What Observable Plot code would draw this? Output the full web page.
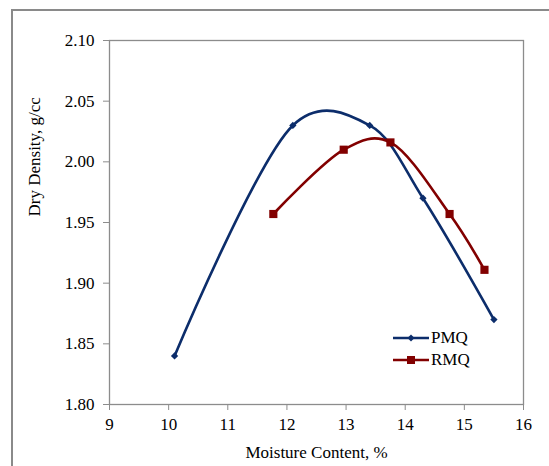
<!DOCTYPE html>
<html>
<head>
<meta charset="utf-8">
<script src="https://cdn.jsdelivr.net/npm/d3@7"></script>
<script src="https://cdn.jsdelivr.net/npm/@observablehq/plot@0.6"></script>
<style>
  html, body { margin: 0; padding: 0; background: #fff; }
  #wrap { position: relative; width: 549px; height: 466px; overflow: hidden; font-family: "Liberation Serif", "Times New Roman", serif; }
  #chart svg, #chart svg text, #chart svg g { font-family: "Liberation Serif", "Times New Roman", serif !important; font-variant: normal !important; }
  #outer { position: absolute; left: 11px; top: 9px; width: 600px; height: 600px; border-left: 2px solid #8a8a8a; border-top: 2px solid #8a8a8a; box-sizing: border-box; pointer-events: none; }
  #legend { position: absolute; left: 393px; top: 327px; font-size: 17px; color: #000; }
  .item { display: flex; align-items: center; height: 22px; }
  .item svg { display: block; margin-right: 1px; }
</style>
</head>
<body>
<div id="wrap">
  <div id="chart"></div>
  <div id="outer"></div>
  <div id="legend"></div>
</div>
<script>
const pmqMoisture = [10.1, 12.1, 13.4, 14.3, 15.5];
const pmqDensity  = [1.840, 2.030, 2.030, 1.970, 1.870];
const rmqMoisture = [11.77, 12.96, 13.75, 14.75, 15.34];
const rmqDensity  = [1.957, 2.010, 2.016, 1.957, 1.911];
const xTicks = [9, 10, 11, 12, 13, 14, 15, 16];
const yTicks = [1.80, 1.85, 1.90, 1.95, 2.00, 2.05, 2.10];
const seriesNames = ["PMQ", "RMQ"];
const seriesColors = ["#0c2d6b", "#820000"];
const xTitle = "Moisture Content, %";
const yTitle = "Dry Density, g/cc";

const pmq = pmqMoisture.map((x, i) => ({x, y: pmqDensity[i]}));
const rmq = rmqMoisture.map((x, i) => ({x, y: rmqDensity[i]}));

const font = "Liberation Serif, Times New Roman, serif";
const smooth = d3.curveCatmullRom.alpha(0.2);

const chart = Plot.plot({
  width: 549,
  height: 466,
  marginLeft: 109,
  marginRight: 26,
  marginTop: 40,
  marginBottom: 62,
  style: { fontFamily: font, fontSize: "17px", background: "#fff", color: "#000" },
  x: { domain: [9, 16] },
  y: { domain: [1.80, 2.10] },
  marks: [
    Plot.frame({ stroke: "#8c8c8c", strokeWidth: 1.3 }),
    Plot.axisX({ ticks: xTicks, tickSize: 6, tickPadding: 7, tickFormat: d => String(d), stroke: "#8c8c8c", fill: "#000", label: null, fontSize: 17, fontFamily: font }),
    Plot.axisY({ ticks: yTicks, tickSize: 6, tickPadding: 9, tickFormat: d3.format(".2f"), stroke: "#8c8c8c", fill: "#000", label: null, fontSize: 17, fontFamily: font }),
    Plot.text([xTitle], { frameAnchor: "bottom", text: d => d, dy: 53, fontSize: 17, fontFamily: font, fill: "#000" }),
    Plot.text([yTitle], { frameAnchor: "left", text: d => d, rotate: -90, dx: -75, dy: -6, fontSize: 17, fontFamily: font, fill: "#000" }),
    Plot.line(pmq, { x: "x", y: "y", stroke: seriesColors[0], strokeWidth: 2.6, curve: smooth }),
    Plot.line(rmq, { x: "x", y: "y", stroke: seriesColors[1], strokeWidth: 2.6, curve: smooth }),
    Plot.dot(pmq, { x: "x", y: "y", symbol: "square", rotate: 45, r: 2.9, fill: seriesColors[0], stroke: "none" }),
    Plot.dot(rmq, { x: "x", y: "y", symbol: "square", r: 4.6, fill: seriesColors[1], stroke: "none" })
  ]
});
document.getElementById("chart").appendChild(chart);

const legend = document.getElementById("legend");
seriesNames.forEach((name, i) => {
  const item = document.createElement("div");
  item.className = "item";
  const marker = i === 0
    ? `<rect x="15.5" y="7.5" width="5" height="5" transform="rotate(45 18 10)" fill="${seriesColors[i]}"/>`
    : `<rect x="14" y="6" width="8" height="8" fill="${seriesColors[i]}"/>`;
  item.innerHTML = `<svg width="37" height="20"><line x1="0" x2="36" y1="10" y2="10" stroke="${seriesColors[i]}" stroke-width="2.6"/>${marker}</svg><span>${name}</span>`;
  legend.appendChild(item);
});
</script>
</body>
</html>
